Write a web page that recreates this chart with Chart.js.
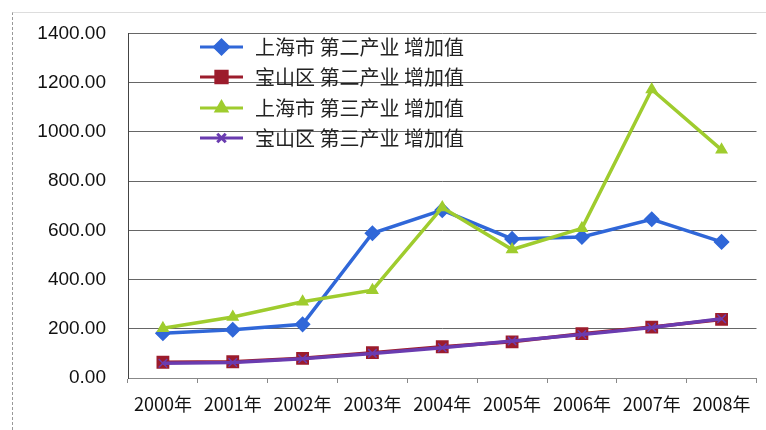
<!DOCTYPE html>
<html>
<head>
<meta charset="utf-8">
<script src="https://cdn.jsdelivr.net/npm/chart.js@4/dist/chart.umd.min.js"></script>
<style>
  html, body { margin:0; padding:0; background:#fff; }
  #wrap { position:relative; width:766px; height:430px; }
  #frame { position:absolute; left:12px; top:12px; right:0; bottom:0; border-left:1px dashed #999; border-top:1px solid #ddd; pointer-events:none; }
</style>
</head>
<body>
<div id="wrap">
  <canvas id="chart" width="766" height="430"></canvas>
  <div id="frame"></div>
</div>
<script>
// 数据
const years = ['2000年','2001年','2002年','2003年','2004年','2005年','2006年','2007年','2008年'];
const shSecond = [182, 196, 218, 588, 682, 565, 573, 645, 553];
const bsSecond = [64, 66, 80, 103, 127, 147, 180, 207, 238];
const shThird = [202, 248, 310, 357, 693, 522, 608, 1172, 927];
const bsThird = [60, 63, 78, 100, 123, 150, 177, 205, 241];
const seriesNames = ['上海市 第二产业 增加值','宝山区 第二产业 增加值','上海市 第三产业 增加值','宝山区 第三产业 增加值'];

const font = '"Noto Sans CJK SC", "Liberation Sans", sans-serif';

// 图例画在绘图区里面
const innerLegend = {
  id: 'innerLegend',
  afterDraw(chart) {
    const ctx = chart.ctx;
    const x0 = 200, x1 = 243, tx = 255;
    const rows = [47, 77, 108, 138];
    ctx.save();
    chart.data.datasets.forEach((ds, i) => {
      const y = rows[i];
      ctx.strokeStyle = ds.borderColor;
      ctx.lineWidth = 3;
      ctx.beginPath(); ctx.moveTo(x0, y); ctx.lineTo(x1, y); ctx.stroke();
      ctx.fillStyle = ds.pointBackgroundColor;
      ctx.strokeStyle = ds.pointBorderColor;
      Chart.helpers.drawPoint(ctx, { pointStyle: ds.pointStyle, radius: ds.pointRadius, borderWidth: 1.5, rotation: 0 }, (x0 + x1) / 2, y);
      ctx.fillStyle = '#222';
      ctx.font = '20px ' + font;
      ctx.textBaseline = 'middle';
      ctx.fillText(ds.label, tx, y);
    });
    ctx.restore();
  }
};

const mk = (label, data, color, style, radius, order) => ({
  label, data, order,
  borderColor: color, backgroundColor: color,
  pointBackgroundColor: color, pointBorderColor: color,
  pointStyle: style, pointRadius: radius, pointBorderWidth: 1.5,
  borderWidth: 3.5, tension: 0
});

new Chart(document.getElementById('chart'), {
  type: 'line',
  data: {
    labels: years,
    datasets: [
      mk(seriesNames[0], shSecond, '#3067d8', 'rectRot', 7, 2),
      mk(seriesNames[1], bsSecond, '#9c1c2c', 'rect', 8, 3),
      mk(seriesNames[2], shThird, '#9fcc2e', 'triangle', 6, 1),
      mk(seriesNames[3], bsThird, '#6a3cb0', 'crossRot', 6, 0)
    ]
  },
  options: {
    responsive: false,
    animation: false,
    layout: { padding: { top: 33, right: 0, left: 0, bottom: 0 } },
    plugins: { legend: { display: false }, tooltip: { enabled: false } },
    scales: {
      x: {
        offset: true,
        grid: { drawOnChartArea: false, drawTicks: true, tickLength: 5, color: '#888', offset: true },
        border: { color: '#888' },
        ticks: { color: '#111', font: { family: font, size: 18 }, maxRotation: 0, autoSkip: false, padding: 10 },
        afterFit(s) { s.height = 52; }
      },
      y: {
        min: 0, max: 1400,
        ticks: { stepSize: 200, color: '#111', font: { family: '"Liberation Sans", sans-serif', size: 19 }, padding: 22,
          callback: v => Number(v).toFixed(2) },
        grid: { color: '#666', lineWidth: 1, drawTicks: false },
        border: { color: '#444', width: 1 },
        afterFit(s) { s.width = 128; }
      }
    }
  },
  plugins: [innerLegend]
});
</script>
</body>
</html>
